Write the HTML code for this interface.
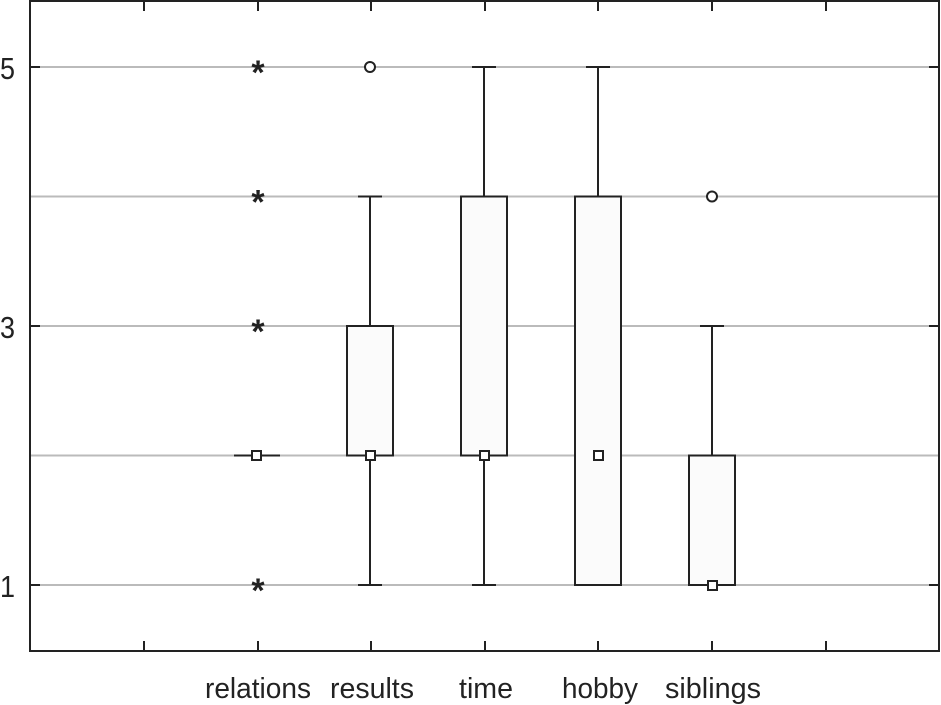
<!DOCTYPE html>
<html><head><meta charset="utf-8"><style>body{margin:0;background:#fff}svg{display:block}</style></head><body>
<svg width="941" height="705" xmlns="http://www.w3.org/2000/svg" font-family="Liberation Sans, sans-serif">
<g stroke="#bbb" stroke-width="2">
<line x1="30" x2="939" y1="67" y2="67"/><line x1="30" x2="939" y1="196.5" y2="196.5"/>
<line x1="30" x2="939" y1="326" y2="326"/><line x1="30" x2="939" y1="455.5" y2="455.5"/>
<line x1="30" x2="939" y1="585" y2="585"/>
</g>
<g stroke="#222" stroke-width="2" fill="none">
<rect x="30" y="1" width="909" height="650"/>
<path d="M144 1v10M258 1v10M371 1v10M485 1v10M598 1v10M712 1v10M826 1v10M144 651v-10M258 651v-10M371 651v-10M485 651v-10M598 651v-10M712 651v-10M826 651v-10M30 67h10M30 326h10M30 585h10M939 67h-10M939 326h-10M939 585h-10"/>
<line x1="234" x2="280" y1="455.5" y2="455.5"/>
<rect x="347" y="326" width="46" height="129.5" fill="#fbfbfb"/>
<path d="M370 455.5V585M358 585h24M370 326V196.5M358 196.5h24"/>
<rect x="461" y="196.5" width="46" height="259" fill="#fbfbfb"/>
<path d="M484 196.5V67M472 67h24M484 455.5V585M472 585h24"/>
<rect x="575" y="196.5" width="46" height="388.5" fill="#fbfbfb"/>
<path d="M598 196.5V67M586 67h24"/>
<rect x="689" y="455.5" width="46" height="129.5" fill="#fbfbfb"/>
<path d="M712 455.5V326M700 326h24"/>
<g fill="#fff">
<rect x="252" y="451" width="9" height="9"/><rect x="366" y="451" width="9" height="9"/>
<rect x="480" y="451" width="9" height="9"/><rect x="594" y="451" width="9" height="9"/>
<rect x="708" y="581" width="9" height="9"/>
<circle cx="370" cy="67" r="5"/><circle cx="712" cy="196.5" r="5"/>
</g>
</g>
<g font-size="34" font-weight="bold" fill="#222" text-anchor="middle">
<text x="258" y="84">*</text><text x="258" y="213.5">*</text><text x="258" y="343">*</text><text x="258" y="602">*</text>
</g>
<g font-size="31" fill="#222">
<text x="0" y="79" textLength="15" lengthAdjust="spacingAndGlyphs">5</text>
<text x="0" y="338" textLength="15" lengthAdjust="spacingAndGlyphs">3</text>
<text x="0" y="597" textLength="15" lengthAdjust="spacingAndGlyphs">1</text>
</g>
<g font-size="29" fill="#222">
<text x="205" y="698" textLength="106" lengthAdjust="spacingAndGlyphs">relations</text>
<text x="330" y="698" textLength="84" lengthAdjust="spacingAndGlyphs">results</text>
<text x="459" y="698" textLength="54" lengthAdjust="spacingAndGlyphs">time</text>
<text x="562" y="698" textLength="76" lengthAdjust="spacingAndGlyphs">hobby</text>
<text x="665" y="698" textLength="96" lengthAdjust="spacingAndGlyphs">siblings</text>
</g>
</svg>
</body></html>
